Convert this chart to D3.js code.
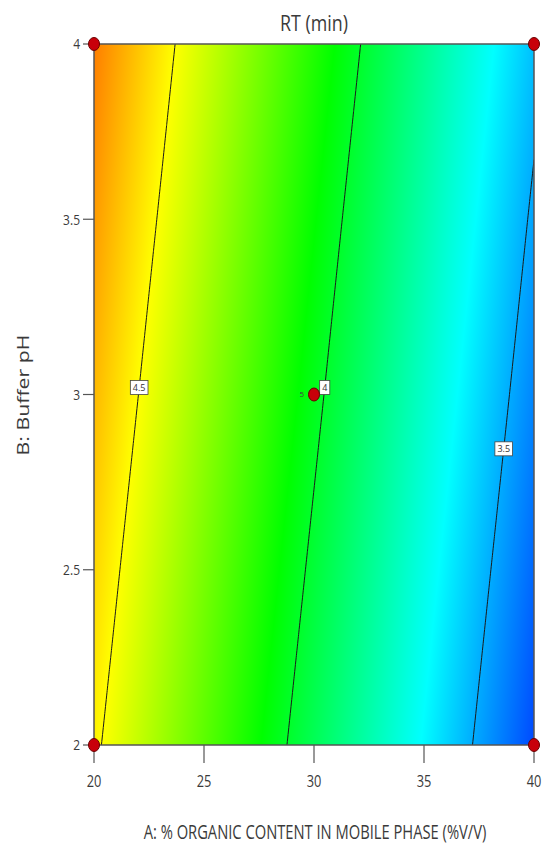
<!DOCTYPE html>
<html>
<head>
<meta charset="utf-8">
<script src="https://cdn.jsdelivr.net/npm/d3@7"></script>
<style>
  html, body { margin: 0; padding: 0; background: #fff; }
  svg { display: block; }
  text { font-family: "Open Sans", "Noto Sans", sans-serif; fill: #3a3a3a; }
</style>
</head>
<body>
<svg id="chart" width="545" height="851"></svg>
<script>
// Factor levels of the design space
const aValues = [20, 25, 30, 35, 40];          // A: % organic content
const bValues = [2, 2.5, 3, 3.5, 4];           // B: buffer pH
// Predicted RT (min); rows follow bValues, columns follow aValues
const rtRow20 = [4.520, 4.224, 3.927, 3.631, 3.334];
const rtRow25 = [4.570, 4.273, 3.977, 3.680, 3.384];
const rtRow30 = [4.620, 4.323, 4.027, 3.730, 3.434];
const rtRow35 = [4.669, 4.373, 4.076, 3.780, 3.483];
const rtRow40 = [4.719, 4.422, 4.126, 3.829, 3.533];
const rtGrid = [rtRow20, rtRow25, rtRow30, rtRow35, rtRow40];

const contourLevels = [3.5, 4, 4.5];
const contourLabelText = ["3.5", "4", "4.5"];
const contourLabelB = [2.845, 3.02, 3.02];     // pH where each level is labelled

const xTicks = [20, 25, 30, 35, 40];
const yTicks = [2, 2.5, 3, 3.5, 4];
const xTickLabels = ["20", "25", "30", "35", "40"];
const yTickLabels = ["2", "2.5", "3", "3.5", "4"];

// Design points (factorial corners + centre point with replicates)
const designA = [20, 40, 20, 40, 30];
const designB = [2, 2, 4, 4, 3];
const designReps = [1, 1, 1, 1, 5];

// Rainbow colour ramp for RT
const rampStops = [3.21, 3.64, 4.07, 4.50, 4.93];
const rampColors = ["#0000ff", "#00ffff", "#00ff00", "#ffff00", "#ff0000"];

const titleText = "RT (min)";
const xTitle = "A: % ORGANIC CONTENT IN MOBILE PHASE (%V/V)";
const yTitle = "B: Buffer pH";

// ---- layout ----
const plot = { left: 94, right: 534, top: 44, bottom: 745 };
const svg = d3.select("#chart");

const x = d3.scaleLinear().domain([20, 40]).range([plot.left, plot.right]);
const y = d3.scaleLinear().domain([2, 4]).range([plot.bottom, plot.top]);
const color = d3.scaleLinear().domain(rampStops).range(rampColors).clamp(true);

// bilinear lookup into the RT table
function rtAt(a, b) {
  let i = Math.min(aValues.length - 2, Math.max(0, d3.bisectRight(aValues, a) - 1));
  let j = Math.min(bValues.length - 2, Math.max(0, d3.bisectRight(bValues, b) - 1));
  const ta = (a - aValues[i]) / (aValues[i + 1] - aValues[i]);
  const tb = (b - bValues[j]) / (bValues[j + 1] - bValues[j]);
  const v00 = rtGrid[j][i], v10 = rtGrid[j][i + 1];
  const v01 = rtGrid[j + 1][i], v11 = rtGrid[j + 1][i + 1];
  return (v00 * (1 - ta) + v10 * ta) * (1 - tb) + (v01 * (1 - ta) + v11 * ta) * tb;
}

// ---- filled surface (raster) ----
const pw = plot.right - plot.left, ph = plot.bottom - plot.top;
const cnv = document.createElement("canvas");
cnv.width = pw; cnv.height = ph;
const ctx = cnv.getContext("2d");
const img = ctx.createImageData(pw, ph);
for (let py = 0; py < ph; py++) {
  const b = y.invert(plot.top + py + 0.5);
  for (let px = 0; px < pw; px++) {
    const a = x.invert(plot.left + px + 0.5);
    const c = d3.rgb(color(rtAt(a, b)));
    const k = (py * pw + px) * 4;
    img.data[k] = c.r; img.data[k + 1] = c.g; img.data[k + 2] = c.b; img.data[k + 3] = 255;
  }
}
ctx.putImageData(img, 0, 0);
svg.append("image")
  .attr("x", plot.left).attr("y", plot.top)
  .attr("width", pw).attr("height", ph)
  .attr("preserveAspectRatio", "none")
  .attr("href", cnv.toDataURL());

// ---- contour lines ----
svg.append("clipPath").attr("id", "plotClip")
  .append("rect").attr("x", plot.left).attr("y", plot.top).attr("width", pw).attr("height", ph);

const nA = 201, nB = 201;
const dA = 20 / (nA - 1), dB = 2 / (nB - 1);
const field = new Array(nA * nB);
for (let j = 0; j < nB; j++)
  for (let i = 0; i < nA; i++)
    field[j * nA + i] = rtAt(20 + i * dA, 2 + j * dB);

const contourGen = d3.contours().size([nA, nB]).thresholds(contourLevels);
const proj = d3.geoTransform({
  point: function (cx, cy) {
    this.stream.point(x(20 + (cx - 0.5) * dA), y(2 + (cy - 0.5) * dB));
  }
});
const pathGen = d3.geoPath(proj);
svg.append("g").attr("clip-path", "url(#plotClip)")
  .selectAll("path")
  .data(contourGen(field))
  .join("path")
  .attr("d", pathGen)
  .attr("fill", "none")
  .attr("stroke", "#1a1a1a")
  .attr("stroke-width", 1);

// ---- frame ----
svg.append("rect")
  .attr("x", plot.left).attr("y", plot.top).attr("width", pw).attr("height", ph)
  .attr("fill", "none").attr("stroke", "#555").attr("stroke-width", 1.5);

// ---- contour labels ----
function solveA(level, b) {
  let lo = 20, hi = 40;
  for (let k = 0; k < 60; k++) {
    const mid = (lo + hi) / 2;
    if (rtAt(mid, b) > level) lo = mid; else hi = mid;
  }
  return (lo + hi) / 2;
}
const lblG = svg.append("g");
contourLevels.forEach((lv, k) => {
  const cx = x(solveA(lv, contourLabelB[k]));
  const cy = y(contourLabelB[k]);
  const g = lblG.append("g").attr("transform", `translate(${cx},${cy})`);
  const rectEl = g.append("rect");
  const t = g.append("text")
    .attr("text-anchor", "middle").attr("dy", "0.35em")
    .attr("font-size", 9).style("fill", "#333")
    .text(contourLabelText[k]);
  const w = t.node().getComputedTextLength() + 5;
  rectEl.attr("x", -w / 2).attr("y", -7).attr("width", w).attr("height", 14)
    .attr("fill", "#fff").attr("stroke", "#444").attr("stroke-width", 0.8);
});

// ---- axes ----
const xAxis = svg.append("g");
xTicks.forEach((v, k) => {
  xAxis.append("line").attr("x1", x(v)).attr("x2", x(v))
    .attr("y1", plot.bottom).attr("y2", plot.bottom + 18)
    .attr("stroke", "#555").attr("stroke-width", 1.2);
  xAxis.append("text")
    .attr("transform", `translate(${x(v)},${plot.bottom + 42}) scale(0.8,1)`)
    .attr("text-anchor", "middle").attr("font-size", 16)
    .text(xTickLabels[k]);
});
const yAxis = svg.append("g");
yTicks.forEach((v, k) => {
  yAxis.append("line").attr("x1", plot.left - 11).attr("x2", plot.left)
    .attr("y1", y(v)).attr("y2", y(v))
    .attr("stroke", "#555").attr("stroke-width", 1.2);
  yAxis.append("text")
    .attr("transform", `translate(${plot.left - 14},${y(v)}) scale(0.8,1)`)
    .attr("text-anchor", "end").attr("dy", "0.35em").attr("font-size", 15)
    .text(yTickLabels[k]);
});

// ---- design points ----
const ptG = svg.append("g");
designA.forEach((a, k) => {
  ptG.append("ellipse")
    .attr("cx", x(a)).attr("cy", y(designB[k]))
    .attr("rx", 5.5).attr("ry", 6.5)
    .attr("fill", "#c8000a").attr("stroke", "#6a0000").attr("stroke-width", 1);
  if (designReps[k] > 1) {
    ptG.append("text")
      .attr("x", x(a) - 10).attr("y", y(designB[k]))
      .attr("dy", "0.35em").attr("text-anchor", "end")
      .attr("font-size", 8).style("fill", "#444")
      .text(designReps[k]);
  }
});

// ---- titles (horizontally condensed to a target width) ----
function condensed(sel, cx, cy, targetW, rotate) {
  const w = sel.node().getComputedTextLength();
  const s = targetW / w;
  sel.attr("transform", rotate
    ? `translate(${cx},${cy}) rotate(-90) scale(${s},1)`
    : `translate(${cx},${cy}) scale(${s},1)`);
}

condensed(svg.append("text")
  .attr("text-anchor", "middle").attr("font-size", 22)
  .text(titleText), 314, 31, 68, false);

condensed(svg.append("text")
  .attr("text-anchor", "middle").attr("font-size", 20)
  .text(xTitle), 315, 839, 343, false);

condensed(svg.append("text")
  .attr("text-anchor", "middle").attr("font-size", 17)
  .text(yTitle), 29, 395, 121, true);
</script>
</body>
</html>
